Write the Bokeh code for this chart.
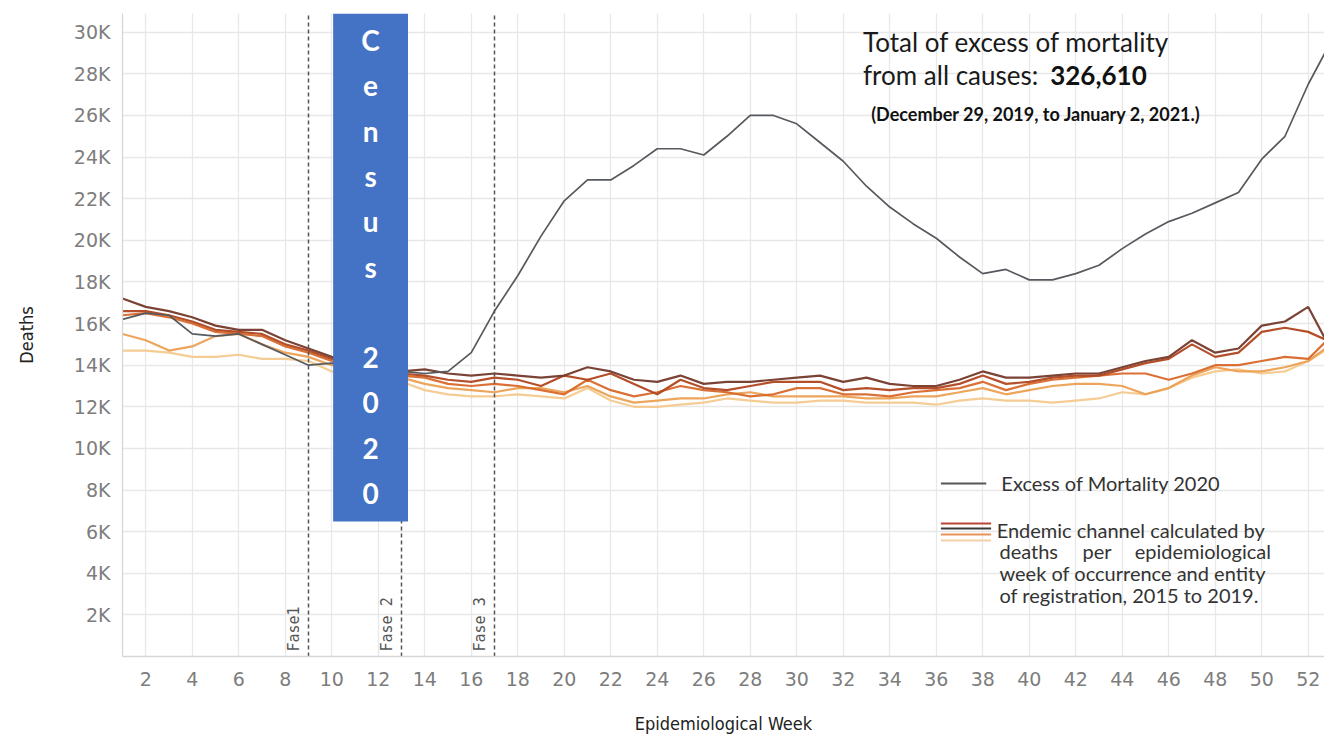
from bokeh.plotting import figure
from bokeh.models import Range1d, FixedTicker
from bokeh.core.properties import value
from bokeh.embed import file_html
from bokeh.resources import INLINE

# ---------------- data ----------------
weeks = list(range(1, 54))

excess_2020 = [16.2, 16.5, 16.4, 15.5, 15.4, 15.5, 15.0, 14.5, 14.0, 14.1,
               13.9, 13.8, 13.7, 13.6, 13.7, 14.6, 16.6, 18.3, 20.2, 21.9,
               22.9, 22.9, 23.6, 24.4, 24.4, 24.1, 25.0, 26.0, 26.0, 25.6,
               24.7, 23.8, 22.6, 21.6, 20.8, 20.1, 19.2, 18.4, 18.6, 18.1,
               18.1, 18.4, 18.8, 19.6, 20.3, 20.9, 21.3, 21.8, 22.3, 23.9,
               25.0, 27.5, 29.6]

y2019 = [17.2, 16.8, 16.6, 16.3, 15.9, 15.7, 15.7, 15.2, 14.8, 14.4,
         14.1, 13.9, 13.7, 13.8, 13.6, 13.5, 13.6, 13.5, 13.4, 13.5,
         13.9, 13.7, 13.3, 13.2, 13.5, 13.1, 13.2, 13.2, 13.3, 13.4,
         13.5, 13.2, 13.4, 13.1, 13.0, 13.0, 13.3, 13.7, 13.4, 13.4,
         13.5, 13.6, 13.6, 13.9, 14.2, 14.4, 15.2, 14.6, 14.8, 15.9,
         16.1, 16.8, 14.7]

y2018 = [16.6, 16.6, 16.4, 16.1, 15.7, 15.6, 15.5, 15.0, 14.7, 14.3,
         14.0, 13.8, 13.6, 13.5, 13.3, 13.2, 13.4, 13.3, 13.0, 13.5,
         13.3, 13.6, 13.1, 12.6, 13.3, 12.9, 12.8, 13.0, 13.2, 13.2,
         13.2, 12.8, 12.9, 12.8, 12.9, 12.9, 13.1, 13.5, 13.1, 13.2,
         13.4, 13.5, 13.5, 13.8, 14.1, 14.3, 15.0, 14.4, 14.6, 15.6,
         15.8, 15.6, 15.1]

y2017 = [16.4, 16.5, 16.3, 16.0, 15.6, 15.5, 15.4, 14.9, 14.6, 14.2,
         14.0, 13.8, 13.5, 13.4, 13.1, 13.0, 13.1, 13.0, 12.8, 12.6,
         13.3, 12.8, 12.5, 12.7, 13.0, 12.8, 12.7, 12.5, 12.6, 12.9,
         12.9, 12.6, 12.6, 12.5, 12.7, 12.8, 12.9, 13.2, 12.8, 13.1,
         13.3, 13.4, 13.5, 13.6, 13.6, 13.3, 13.6, 14.0, 14.0, 14.2,
         14.4, 14.3, 15.4]

y2016 = [15.5, 15.2, 14.7, 14.9, 15.4, 15.5, 15.0, 14.6, 14.4, 14.0,
         13.8, 13.6, 13.4, 13.1, 12.9, 12.8, 12.7, 12.9, 12.9, 12.7,
         13.0, 12.5, 12.2, 12.3, 12.4, 12.4, 12.6, 12.7, 12.5, 12.5,
         12.5, 12.5, 12.4, 12.4, 12.5, 12.5, 12.7, 12.9, 12.6, 12.8,
         13.0, 13.1, 13.1, 13.0, 12.6, 12.9, 13.5, 13.9, 13.7, 13.7,
         13.9, 14.2, 15.0]

y2015 = [14.7, 14.7, 14.6, 14.4, 14.4, 14.5, 14.3, 14.3, 14.2, 13.7,
         13.4, 13.3, 13.2, 12.8, 12.6, 12.5, 12.5, 12.6, 12.5, 12.4,
         12.9, 12.3, 12.0, 12.0, 12.1, 12.2, 12.4, 12.3, 12.2, 12.2,
         12.3, 12.3, 12.2, 12.2, 12.2, 12.1, 12.3, 12.4, 12.3, 12.3,
         12.2, 12.3, 12.4, 12.7, 12.6, 12.9, 13.4, 13.7, 13.8, 13.6,
         13.7, 14.2, 14.9]

x_ticks = list(range(2, 53, 2))
y_ticks = list(range(2000, 30001, 2000))
y_tick_labels = {t: f"{t // 1000}K" for t in y_ticks}

phase_weeks = [9, 13, 17]
phase_labels = ["Fase1", "Fase 2", "Fase 3"]

census_letters = ["C", "e", "n", "s", "u", "s", "", "2", "0", "2", "0"]

total_excess = "326,610"

# ---------------- figure ----------------
Y_TOP = 30900
p = figure(width=1324, height=736, output_backend="svg", toolbar_location=None,
           x_range=Range1d(1, 52.7), y_range=Range1d(0, Y_TOP),
           min_border_left=122, min_border_right=0, min_border_top=13,
           min_border_bottom=80)
p.outline_line_color = None
p.background_fill_color = "white"

p.xaxis.ticker = FixedTicker(ticks=x_ticks)
p.yaxis.ticker = FixedTicker(ticks=y_ticks)
p.yaxis.major_label_overrides = {k: v for k, v in y_tick_labels.items()}
p.xgrid.ticker = FixedTicker(ticks=x_ticks)
p.ygrid.ticker = FixedTicker(ticks=y_ticks)
p.grid.grid_line_color = "#e8e8e8"
p.grid.grid_line_width = 1.3

for ax in (p.xaxis[0], p.yaxis[0]):
    ax.axis_line_color = "#d6d6d6"
    ax.axis_line_width = 1.3
    ax.major_tick_line_color = None
    ax.minor_tick_line_color = None
    ax.major_label_text_font = "DejaVu Sans"
    ax.major_label_text_font_size = "19px"
    ax.major_label_text_color = "#7d7d7d"
    ax.axis_label_text_font = "DejaVu Sans Condensed"
    ax.axis_label_text_font_size = "18px"
    ax.axis_label_text_font_style = "normal"
    ax.axis_label_text_color = "#222222"

p.xaxis.axis_label = "Epidemiological Week"
p.yaxis.axis_label = "Deaths"
p.xaxis.major_label_standoff = 9
p.xaxis.axis_label_standoff = 24
p.yaxis.major_label_standoff = 6
p.yaxis.axis_label_standoff = 34

# ---------------- series ----------------
def k(vals):
    return [v * 1000 for v in vals]

series = [
    (y2015, "#f4c98e"),
    (y2016, "#eba052"),
    (y2017, "#d8682a"),
    (y2018, "#b0461f"),
    (y2019, "#74392a"),
]
for vals, col in series:
    p.line(weeks, k(vals), line_color=col, line_width=2.2, line_alpha=0.95)

p.line(weeks, k(excess_2020), line_color="#56595e", line_width=1.7)

# phase lines
for wk in phase_weeks:
    p.segment(x0=wk, y0=0, x1=wk, y1=Y_TOP, line_color="#555555",
              line_width=1.5, line_dash="4 3")
p.text(x=phase_weeks, y=[240] * 3, text=phase_labels, angle=1.5708,
       x_offset=-5, text_align="left", text_baseline="bottom",
       text_font=value("DejaVu Sans Mono"), text_font_size="15px",
       text_color="#555555")

# census box
p.quad(left=10.06, right=13.28, bottom=6490, top=Y_TOP,
       fill_color="#4472c4", line_color=None)
letter_y = [29617 - i * 2178 for i in range(len(census_letters))]
p.text(x=[11.67] * len(census_letters), y=letter_y, text=census_letters,
       text_align="center", text_baseline="middle",
       text_font=value("Lato"), text_font_style="bold",
       text_font_size="28px", text_color="white")

# annotation text
p.text(x=[32.85, 32.85], y=[29520, 27935],
       text=["Total of excess of mortality", "from all causes:"],
       text_align="left", text_baseline="middle", text_font=value("Lato"),
       text_font_size="26px", text_color="#1a1a1a")
p.text(x=[40.9], y=[27935], text=[total_excess], text_align="left",
       text_baseline="middle", text_font=value("Lato"), text_font_style="bold",
       text_font_size="26px", text_color="#111111")
p.text(x=[33.2], y=[26060], text=["(December 29, 2019, to January 2, 2021.)"],
       text_align="left", text_baseline="middle", text_font=value("Lato"),
       text_font_style="bold", text_font_size="18px", text_color="#111111")

# legend
p.segment(x0=36.2, y0=8318, x1=38.15, y1=8318, line_color="#555555", line_width=2)
p.text(x=[38.8], y=[8318], text=["Excess of Mortality 2020"], text_align="left",
       text_baseline="middle", text_font=value("Lato"), text_font_size="20px",
       text_color="#333333")
leg_cols = ["#b8473a", "#3a3a3a", "#e8935a", "#f5cfa8"]
leg_y = [6395, 6154, 5866, 5577]
p.segment(x0=[36.2] * 4, y0=leg_y, x1=[38.36] * 4, y1=leg_y,
          line_color=leg_cols, line_width=2)
p.text(x=[38.6, 38.72, 38.72], y=[6058, 3991, 2933],
       text=["Endemic channel calculated by", "week of occurrence and entity",
             "of registration, 2015 to 2019."],
       text_align="left", text_baseline="middle", text_font=value("Lato"),
       text_font_size="20px", text_color="#333333")
p.text(x=[38.72, 42.29, 50.4], y=[5048] * 3,
       text=["deaths", "per", "epidemiological"],
       text_align=["left", "left", "right"], text_baseline="middle",
       text_font=value("Lato"), text_font_size="20px", text_color="#333333")

open("out.html", "w").write(file_html(p, INLINE))
